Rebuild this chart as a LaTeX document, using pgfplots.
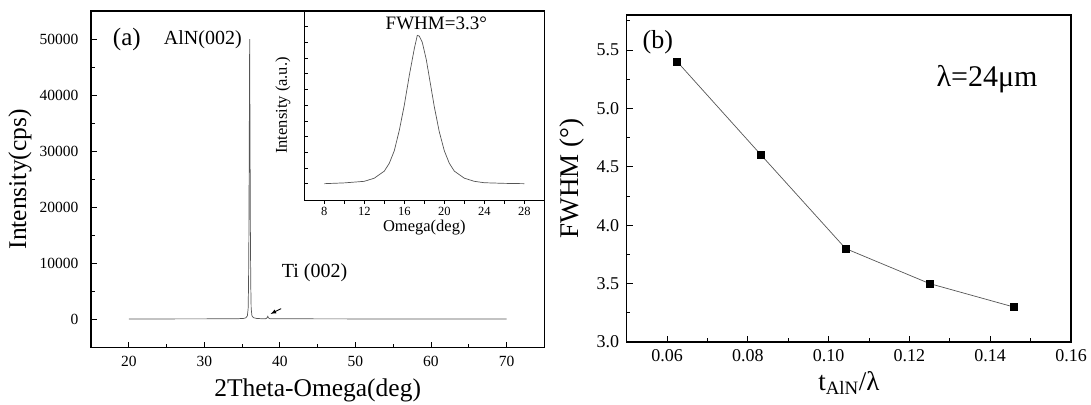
\documentclass[border=0pt]{standalone}
\usepackage{fontspec}
\setmainfont{Liberation Serif}
\usepackage{pgfplots}
\pgfplotsset{compat=1.18}
\definecolor{curve}{RGB}{85,85,85}
\begin{document}
\begin{tikzpicture}
\path[use as bounding box] (0pt,0pt) rectangle (1091pt,404pt);
\pgfplotsset{
  every axis/.append style={
    scale only axis,
    axis line style={line width=1.1pt},
    tick style={black, line width=0.9pt},
    tick align=inside,
    tick pos=left,
    /pgf/number format/assume math mode=true,
    major tick length=6pt,
    minor tick length=3.5pt,
  },
}
% ---------------- panel (a) ----------------
\begin{axis}[
  at={(91pt,56.3pt)}, anchor=south west,
  width=453.3pt, height=336.7pt,
  xmin=15, xmax=75, ymin=-5000, ymax=55000,
  xtick={20,30,40,50,60,70}, minor xtick={25,35,45,55,65},
  ytick={0,10000,20000,30000,40000,50000},
  minor ytick={5000,15000,25000,35000,45000},
  scaled y ticks=false,
  /pgf/number format/1000 sep={},
  tick label style={font=\fontsize{15.5}{16}\selectfont},
  yticklabel style={xshift=-9pt},
  xticklabel style={yshift=-5pt},
  xlabel={2Theta-Omega(deg)},
  ylabel={Intensity(cps)},
  label style={font=\fontsize{25.5}{26}\selectfont},
  ylabel style={at={(axis description cs:-0.123,0.5)}, anchor=south},
  xlabel style={at={(axis description cs:0.5,-0.081)}, anchor=north},
]
\addplot[color=curve, line width=0.7pt] coordinates {
(20,130)(25,130)(30,140)(33,150)(34.5,170)(35.2,220)(35.5,320)(35.7,700)
(35.8,2000)(35.85,6000)(35.9,15000)(35.95,32000)(36.0,50000)
(36.05,32000)(36.1,15000)(36.15,6000)(36.2,2000)(36.3,700)(36.5,350)
(36.9,220)(37.5,170)(38.1,160)(38.3,300)(38.4,600)(38.5,300)(38.7,170)
(40,150)(45,140)(50,130)(55,125)(60,120)(65,120)(70,115)
};
\node[font=\fontsize{25}{26}\selectfont] at (axis cs:19.74,50000) {(a)};
\node[font=\fontsize{20}{21}\selectfont] at (axis cs:29.8,49800) {AlN(002)};
\node[font=\fontsize{20}{21}\selectfont] at (axis cs:44.6,8400) {Ti (002)};
\draw[-latex, line width=0.9pt] (axis cs:40.17,1957) -- (axis cs:38.77,1014);
\end{axis}
% ---------------- inset ----------------
\begin{axis}[
  at={(304.3pt,204pt)}, anchor=south west,
  width=240pt, height=189pt,
  xmin=6, xmax=30, ymin=-1.04, ymax=11,
  xtick={8,12,16,20,24,28}, minor xtick={10,14,18,22,26},
  ytick={0,2,4,6,8,10}, minor ytick={1,3,5,7,9},
  yticklabels={},
  tick align=outside,
  major tick length=4pt, minor tick length=4pt,
  y tick style={xshift=4pt},
  axis line style={line width=0.9pt},
  tick style={line width=0.7pt},
  tick label style={font=\fontsize{12.5}{13}\selectfont},
  xlabel={Omega(deg)},
  ylabel={Intensity (a.u.)},
  label style={font=\fontsize{16.5}{17}\selectfont},
  ylabel style={at={(axis description cs:-0.043,0.5)}, anchor=south},
  xlabel style={at={(axis description cs:0.5,-0.085)}, anchor=north},
]
\addplot[color=curve, line width=0.7pt] coordinates {
(8,0.0)(10,0.05)(12,0.15)(13,0.35)(14,0.8)(14.5,1.3)(15,2.1)(15.5,3.4)
(16,5.0)(16.5,6.9)(17,8.6)(17.3,9.45)(17.5,9.4)(17.8,9.0)(18.2,7.9)
(18.6,6.4)(19,4.9)(19.5,3.3)(20,2.1)(20.5,1.3)(21,0.8)(22,0.35)
(23,0.15)(24,0.06)(26,0.02)(28,0.0)
};
\node[font=\fontsize{19}{20}\selectfont] at (axis cs:19.2,10.24) {FWHM=3.3°};
\end{axis}
% ---------------- panel (b) ----------------
\begin{axis}[
  at={(626.7pt,62pt)}, anchor=south west,
  width=444.3pt, height=327pt,
  xmin=0.05, xmax=0.16, ymin=3, ymax=5.8,
  xtick={0.06,0.08,0.10,0.12,0.14,0.16},
  minor xtick={0.07,0.09,0.11,0.13,0.15},
  ytick={3,3.5,4,4.5,5,5.5},
  minor ytick={3.25,3.75,4.25,4.75,5.25,5.75},
  tick label style={font=\fontsize{18}{18}\selectfont},
  xticklabel style={yshift=-4pt, /pgf/number format/.cd, fixed, fixed zerofill, precision=2},
  yticklabel style={xshift=-4pt, /pgf/number format/.cd, fixed, fixed zerofill, precision=1},
  xlabel={t\textsubscript{AlN}/λ},
  ylabel={FWHM (°)},
  label style={font=\fontsize{27}{28}\selectfont},
  ylabel style={at={(axis description cs:-0.087,0.5)}, anchor=south},
  xlabel style={at={(axis description cs:0.5,-0.078)}, anchor=north},
]
\addplot[color=curve, line width=0.7pt, mark=square*, mark size=3.6pt,
  mark options={fill=black, draw=black, solid}] coordinates {
(0.0625,5.4)(0.0833,4.6)(0.1042,3.8)(0.125,3.5)(0.1458,3.3)
};
\node[font=\fontsize{26}{27}\selectfont] at (axis cs:0.0577,5.57) {(b)};
\node[font=\fontsize{30}{31}\selectfont] at (axis cs:0.1392,5.25) {λ=24μm};
\end{axis}
\end{tikzpicture}
\end{document}
